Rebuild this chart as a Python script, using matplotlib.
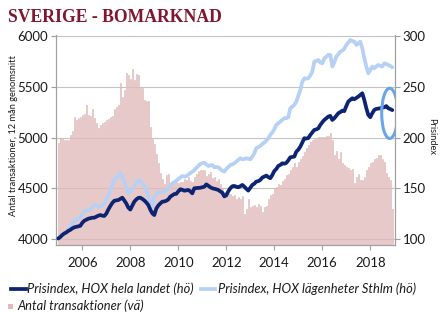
import matplotlib
matplotlib.use("Agg")
import matplotlib.pyplot as plt
from matplotlib.patches import Ellipse, Rectangle
from matplotlib.lines import Line2D
import numpy as np

# Monthly data Jan 2005 - Dec 2018
transaktioner = [
    4945, 4995, 4990, 4975, 4980, 4975, 5025, 5060, 5205, 5175, 5190, 5205,
    5222, 5230, 5320, 5225, 5210, 5285, 5195, 5140, 5090, 5120, 5140, 5156,
    5170, 5185, 5205, 5210, 5280, 5300, 5320, 5533, 5400, 5467, 5638, 5615,
    5573, 5671, 5566, 5625, 5620, 5484, 5490, 5370, 5362, 5362, 5100, 4990,
    4941, 4842, 4744, 4650, 4590, 4546, 4628, 4640, 4520, 4540, 4579, 4563,
    4555, 4563, 4563, 4595, 4580, 4612, 4575, 4563, 4612, 4640, 4670, 4678,
    4684, 4678, 4620, 4645, 4660, 4600, 4612, 4570, 4590, 4540, 4500, 4460,
    4447, 4447, 4447, 4420, 4430, 4398, 4414, 4398, 4420, 4250, 4300, 4398,
    4320, 4330, 4340, 4320, 4349, 4330, 4266, 4316, 4330, 4398, 4431, 4447,
    4505, 4513, 4546, 4530, 4570, 4595, 4630, 4645, 4678, 4711, 4744, 4711,
    4760, 4793, 4815, 4860, 4895, 4924, 4960, 4975, 4990, 4990, 5007, 5007,
    5007, 5007, 5010, 5014, 5040, 4974, 4826, 4870, 4793, 4860, 4750, 4730,
    4711, 4700, 4678, 4690, 4550, 4612, 4640, 4585, 4580, 4612, 4678, 4711,
    4744, 4760, 4790, 4800, 4826, 4830, 4790, 4760, 4650, 4612, 4580, 4300,
]

hox_landet = [
    100.5, 102, 104, 105.5, 106.5, 108, 109, 110.5, 111.5, 112, 112.5, 113,
    116, 118, 119, 120, 120.5, 121, 121, 122, 123, 123.6, 123, 122.7,
    125, 129, 132.5, 135.5, 137.7, 138, 138.4, 139.5, 140.7, 138, 135, 131,
    129, 133, 136.8, 139, 140.5, 140.7, 139.5, 138, 136, 133.5, 129, 125.3,
    123.6, 130, 133, 135, 136.8, 137, 137.7, 139, 141.7, 143, 144.3, 144.5,
    147, 149, 148.5, 147.6, 148, 148.3, 147, 145, 150, 150.2, 150.3, 150.5,
    151, 151.5, 153.8, 152.5, 151, 150, 149.5, 149, 148.3, 147, 145.6, 142,
    143, 147, 150, 152, 152.3, 151.5, 151, 152, 153.3, 151.6, 149.5, 147.7,
    150.5, 153.3, 154.5, 156.6, 157, 158.2, 160.5, 161.5, 162.5, 161, 159.9, 163,
    167, 169, 172, 173, 174.6, 174.2, 175, 177.5, 180.5, 180.8, 181.2, 186,
    188, 191, 195, 199.3, 199, 199.5, 202.5, 205, 207.5, 208, 209, 212.4,
    215, 217.3, 219, 220.6, 221.3, 217.3, 219, 221.5, 223.9, 225, 226.5, 226,
    231, 235.4, 237, 238.7, 237.7, 239, 240.3, 242, 243.6, 237, 229, 222.2,
    220, 224, 227.2, 228.2, 228.5, 228.8, 229.5, 229.8, 231, 228.8, 228, 227,
]

hox_sthlm = [
    100.5, 101.5, 103, 104.5, 106.5, 109, 112, 116, 117.5, 119, 120.5, 122,
    124.5, 127, 128, 128.5, 129, 131.5, 133.5, 133, 131.8, 132.5, 133.5, 135,
    139, 143, 146.6, 153, 158.8, 160.5, 162, 165.3, 162, 156.5, 150, 145,
    147, 149.5, 152, 155, 158, 157, 154.9, 152, 149, 142, 135, 132.5,
    141.7, 144, 145.5, 146.6, 146, 146.6, 148, 149, 152, 154.9, 156, 157.5,
    159, 160.5, 162, 161.5, 162, 163.5, 165, 166.3, 168, 170, 172, 173.9,
    174.5, 175.2, 173.5, 172, 172.5, 172.9, 170.6, 171, 170.6, 169, 167.3, 166.4,
    169, 171, 173, 173.5, 174.6, 176.3, 178, 179.6, 178.5, 178.8, 179.6, 179,
    178.6, 181, 184.5, 189.4, 190.5, 191.7, 193.5, 195, 197, 199.3, 202.5, 205,
    208.1, 212.4, 214, 215.7, 217.5, 219, 219, 220, 228.8, 230.5, 232.1, 235.4,
    241, 246.9, 255, 258.4, 258, 258.4, 261, 265, 274.8, 275.5, 276.4, 274,
    273.1, 278, 279.5, 281.4, 281.4, 269.9, 274, 279.7, 282, 284.6, 285.6, 287.5,
    291.2, 293.5, 296.1, 295, 294.5, 291.2, 292.5, 294.5, 287.9, 278, 270, 263.3,
    266.5, 269.9, 268.2, 270, 271.5, 270.5, 269.9, 273.1, 272.5, 271.5, 270.5, 269.2,
]

year_ticks = [2006, 2008, 2010, 2012, 2014, 2016, 2018]
left_ticks = [4000, 4500, 5000, 5500, 6000]
right_ticks = [100, 150, 200, 250, 300]
start_year = 2005

FONT = "Lato"
W, H = 446, 326
fig = plt.figure(figsize=(W / 100, H / 100), dpi=100)

def fx(px):
    return px / W

def fy(py):
    return 1 - py / H

ax = fig.add_axes([fx(56), fy(245), fx(395) - fx(56), fy(35) - fy(245)])
months = np.arange(len(transaktioner))

ax.bar(months, transaktioner, width=0.65, color="#F1DBDB", edgecolor="#DDAEAE",
       linewidth=0.4, zorder=2)
ax.set_ylim(3941, 6010)
ax.set_xlim(-1.15, 168.35)
ax.set_yticks(left_ticks)
ax.grid(axis="y", color="#C4C4C4", linewidth=0.8, zorder=0)
ax.set_axisbelow(True)
ax.set_xticks([(y - start_year) * 12 for y in year_ticks])
ax.set_xticklabels([str(y) for y in year_ticks])

ax2 = ax.twinx()
ax2.set_ylim(94.1, 301.0)
ax2.set_yticks(right_ticks)
ax2.plot(months, hox_sthlm, color="#B7D1F6", linewidth=2.7,
         solid_joinstyle="round", solid_capstyle="round", zorder=3)
ax2.plot(months, hox_landet, color="#0D2473", linewidth=2.7,
         solid_joinstyle="round", solid_capstyle="round", zorder=4)
ax2.add_patch(Ellipse((165.7, 223.8), 8.0, 49.5, fill=False,
                      edgecolor="#6AA5EA", linewidth=2.2, zorder=5))

for a in (ax, ax2):
    for s in a.spines.values():
        s.set_color("#A0A0A0")
        s.set_linewidth(0.8)
    a.spines["top"].set_visible(False)
    a.tick_params(colors="#A0A0A0", labelcolor="#1A1A1A", labelsize=9.5,
                  length=3.5, width=0.8)
    for lab in a.get_xticklabels() + a.get_yticklabels():
        lab.set_fontfamily(FONT)
ax.tick_params(axis="y", pad=2)
ax2.tick_params(axis="y", pad=2)
ax.tick_params(axis="x", pad=5)

fig.text(fx(14), fy(136), "Antal transaktioner, 12 mån genomsnitt",
         rotation=90, ha="center", va="center", fontsize=6.7,
         family=FONT, color="#1A1A1A")
fig.text(fx(432), fy(137), "Prisindex", rotation=270, ha="center",
         va="center", fontsize=6.7, family=FONT, color="#1A1A1A")

fig.text(fx(8), fy(17.5), "SVERIGE - BOMARKNAD", ha="left", va="center",
         fontsize=12.7, fontweight="bold", family="Liberation Serif",
         color="#82152F")

# legend
LFS = 9.3
fig.add_artist(Line2D([fx(11), fx(26)], [fy(289), fy(289)], color="#0D2473",
                      linewidth=2.7, transform=fig.transFigure))
fig.text(fx(27), fy(289), "Prisindex, HOX hela landet (hö)", ha="left",
         va="center", fontsize=LFS, style="italic", family=FONT, color="#1A1A1A")
fig.add_artist(Line2D([fx(201), fx(215)], [fy(289), fy(289)], color="#B7D1F6",
                      linewidth=2.7, transform=fig.transFigure))
fig.text(fx(218), fy(289), "Prisindex, HOX lägenheter Sthlm (hö)", ha="left",
         va="center", fontsize=LFS, style="italic", family=FONT, color="#1A1A1A")
fig.add_artist(Rectangle((fx(8), fy(308.5)), fx(13) - fx(8), fy(303.5) - fy(308.5),
                         facecolor="#E3B9B9", edgecolor="none",
                         transform=fig.transFigure))
fig.text(fx(17), fy(306), "Antal transaktioner (vä)", ha="left",
         va="center", fontsize=LFS, style="italic", family=FONT, color="#1A1A1A")

fig.savefig("out.png", dpi=100)
